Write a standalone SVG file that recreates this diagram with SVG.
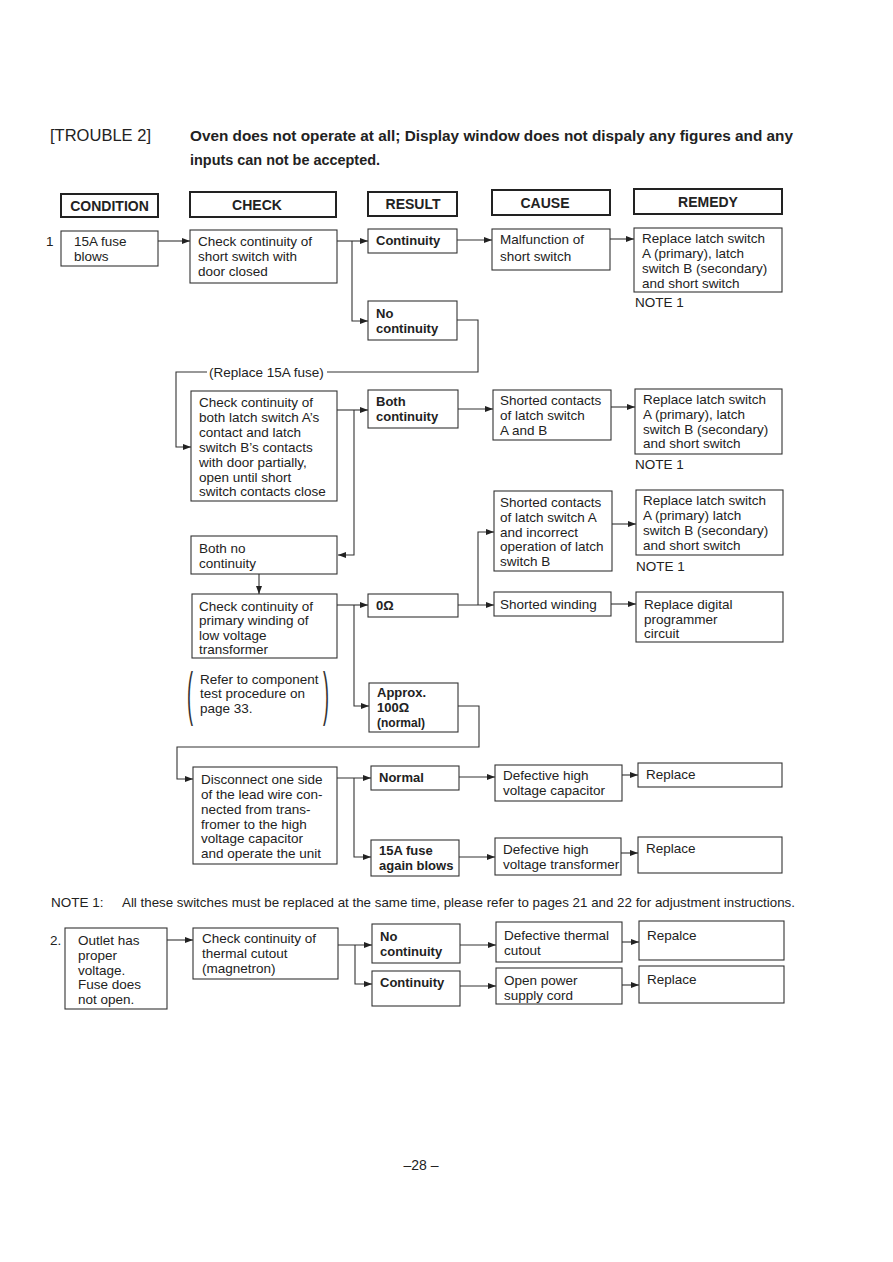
<svg xmlns="http://www.w3.org/2000/svg" width="893" height="1262" viewBox="0 0 893 1262">
<style>
text{font-family:"Liberation Sans",Arial,sans-serif;fill:#222;}
.t{font-size:13.5px;}
.b{font-size:13px;font-weight:bold;}
.h{font-size:14px;font-weight:bold;text-anchor:middle;}
.box{fill:#fff;stroke:#333;stroke-width:1.1;}
.hbox{fill:#fff;stroke:#222;stroke-width:2;}
.c{fill:none;stroke:#333;stroke-width:1.1;}
</style>
<defs>
<marker id="ah" markerUnits="userSpaceOnUse" markerWidth="9" markerHeight="7" refX="8" refY="3.5" orient="auto">
<path d="M0,0.5 L8,3.5 L0,6.5 z" fill="#222"/>
</marker>
</defs>
<rect width="893" height="1262" fill="#fff"/>

<g id="title">
<text x="50" y="141" style="font-size:16px" textLength="101" lengthAdjust="spacingAndGlyphs">[TROUBLE 2]</text>
<text x="190" y="141" style="font-size:14.5px;font-weight:bold" textLength="603" lengthAdjust="spacingAndGlyphs">Oven does not operate at all; Display window does not dispaly any figures and any</text>
<text x="190" y="165" style="font-size:14.5px;font-weight:bold" textLength="190" lengthAdjust="spacingAndGlyphs">inputs can not be accepted.</text>
</g>

<g id="headers">
<g id="h-condition"><rect class="hbox" x="61" y="194" width="97" height="23"/><text class="h" x="109.5" y="211">CONDITION</text></g>
<g id="h-check"><rect class="hbox" x="190" y="192" width="146" height="25"/><text class="h" x="257" y="210">CHECK</text></g>
<g id="h-result"><rect class="hbox" x="368" y="192" width="89" height="24"/><text class="h" x="413" y="209">RESULT</text></g>
<g id="h-cause"><rect class="hbox" x="492" y="190" width="118" height="25"/><text class="h" x="545" y="208">CAUSE</text></g>
<g id="h-remedy"><rect class="hbox" x="634" y="189" width="148" height="25"/><text class="h" x="708" y="207">REMEDY</text></g>
</g>

<g id="connectors">
<path class="c" d="M158,241 H190" marker-end="url(#ah)"/>
<path class="c" d="M337,241 H368" marker-end="url(#ah)"/>
<path class="c" d="M352,241 V321 H368" marker-end="url(#ah)"/>
<path class="c" d="M457,240 H492" marker-end="url(#ah)"/>
<path class="c" d="M610,239 H634" marker-end="url(#ah)"/>
<path class="c" d="M457,320 H478 V372 H327"/>
<path class="c" d="M207,372 H176 V447 H191" marker-end="url(#ah)"/>
<path class="c" d="M337,410 H368" marker-end="url(#ah)"/>
<path class="c" d="M354,410 V555 H338" marker-end="url(#ah)"/>
<path class="c" d="M458,409 H493" marker-end="url(#ah)"/>
<path class="c" d="M611,407 H635" marker-end="url(#ah)"/>
<path class="c" d="M612,524 H636" marker-end="url(#ah)"/>
<path class="c" d="M259,574 V594" marker-end="url(#ah)"/>
<path class="c" d="M337,605 H368" marker-end="url(#ah)"/>
<path class="c" d="M354,605 V706 H369" marker-end="url(#ah)"/>
<path class="c" d="M458,605 H494" marker-end="url(#ah)"/>
<path class="c" d="M478,605 V532 H494" marker-end="url(#ah)"/>
<path class="c" d="M611,604 H636" marker-end="url(#ah)"/>
<path class="c" d="M458,706 H479 V747 H177 V779 H193" marker-end="url(#ah)"/>
<path class="c" d="M337,778 H371" marker-end="url(#ah)"/>
<path class="c" d="M354,778 V857 H371" marker-end="url(#ah)"/>
<path class="c" d="M459,777 H495" marker-end="url(#ah)"/>
<path class="c" d="M622,775 H638" marker-end="url(#ah)"/>
<path class="c" d="M459,857 H495" marker-end="url(#ah)"/>
<path class="c" d="M621,853 H638" marker-end="url(#ah)"/>
<path class="c" d="M167,940 H193" marker-end="url(#ah)"/>
<path class="c" d="M338,945 H372" marker-end="url(#ah)"/>
<path class="c" d="M355,945 V984 H372" marker-end="url(#ah)"/>
<path class="c" d="M460,945 H496" marker-end="url(#ah)"/>
<path class="c" d="M460,986 H496" marker-end="url(#ah)"/>
<path class="c" d="M622,942 H639" marker-end="url(#ah)"/>
<path class="c" d="M622,985 H639" marker-end="url(#ah)"/>
<text class="t" x="209" y="377">(Replace 15A fuse)</text>
</g>

<text class="t" x="46" y="246">1</text>
<g id="cond1"><rect class="box" x="61" y="231" width="97" height="35"/><text class="t" x="74" y="246">15A fuse</text><text class="t" x="74" y="261">blows</text></g>
<g id="check1"><rect class="box" x="190" y="230" width="147" height="53"/><text class="t" x="198" y="246">Check continuity of</text><text class="t" x="198" y="261">short switch with</text><text class="t" x="198" y="276">door closed</text></g>
<g id="res-continuity"><rect class="box" x="368" y="229" width="89" height="24"/><text class="b" x="376" y="245">Continuity</text></g>
<g id="cause-malfunction"><rect class="box" x="492" y="229" width="118" height="41"/><text class="t" x="500" y="244">Malfunction of</text><text class="t" x="500" y="261">short switch</text></g>
<g id="rem1"><rect class="box" x="634" y="228" width="148" height="64"/><text class="t" x="642" y="243">Replace latch switch</text><text class="t" x="642" y="258">A (primary), latch</text><text class="t" x="642" y="273">switch B (secondary)</text><text class="t" x="642" y="288">and short switch</text></g>
<text class="t" x="635" y="307">NOTE 1</text>
<g id="res-nocontinuity"><rect class="box" x="368" y="301" width="89" height="39"/><text class="b" x="376" y="318">No</text><text class="b" x="376" y="333">continuity</text></g>

<g id="check2"><rect class="box" x="191" y="391" width="146" height="110"/>
<text class="t" x="199" y="407">Check continuity of</text><text class="t" x="199" y="422">both latch switch A’s</text><text class="t" x="199" y="437">contact and latch</text><text class="t" x="199" y="452">switch B’s contacts</text><text class="t" x="199" y="467">with door partially,</text><text class="t" x="199" y="482">open until short</text><text class="t" x="199" y="496">switch contacts close</text></g>
<g id="res-both"><rect class="box" x="368" y="390" width="90" height="38"/><text class="b" x="376" y="406">Both</text><text class="b" x="376" y="421">continuity</text></g>
<g id="cause-shortedAB"><rect class="box" x="493" y="390" width="118" height="50"/><text class="t" x="500" y="405">Shorted contacts</text><text class="t" x="500" y="420">of latch switch</text><text class="t" x="500" y="435">A and B</text></g>
<g id="rem2"><rect class="box" x="635" y="389" width="147" height="65"/><text class="t" x="643" y="404">Replace latch switch</text><text class="t" x="643" y="419">A (primary), latch</text><text class="t" x="643" y="434">switch B (secondary)</text><text class="t" x="643" y="448">and short switch</text></g>
<text class="t" x="635" y="469">NOTE 1</text>

<g id="cause-shortedA"><rect class="box" x="494" y="491" width="118" height="80"/><text class="t" x="500" y="507">Shorted contacts</text><text class="t" x="500" y="522">of latch switch A</text><text class="t" x="500" y="537">and incorrect</text><text class="t" x="500" y="551">operation of latch</text><text class="t" x="500" y="566">switch B</text></g>
<g id="rem3"><rect class="box" x="636" y="490" width="147" height="65"/><text class="t" x="643" y="505">Replace latch switch</text><text class="t" x="643" y="520">A (primary) latch</text><text class="t" x="643" y="535">switch B (secondary)</text><text class="t" x="643" y="550">and short switch</text></g>
<text class="t" x="636" y="571">NOTE 1</text>

<g id="res-bothno"><rect class="box" x="191" y="536" width="146" height="38"/><text class="t" x="199" y="553">Both no</text><text class="t" x="199" y="568">continuity</text></g>

<g id="check3"><rect class="box" x="192" y="594" width="145" height="64"/><text class="t" x="199" y="611">Check continuity of</text><text class="t" x="199" y="625">primary winding of</text><text class="t" x="199" y="640">low voltage</text><text class="t" x="199" y="654">transformer</text></g>
<g id="res-0ohm"><rect class="box" x="368" y="594" width="90" height="23"/><text class="b" x="376" y="610">0Ω</text></g>
<g id="cause-winding"><rect class="box" x="494" y="592" width="117" height="24"/><text class="t" x="500" y="609">Shorted winding</text></g>
<g id="rem4"><rect class="box" x="636" y="592" width="147" height="50"/><text class="t" x="644" y="609">Replace digital</text><text class="t" x="644" y="624">programmer</text><text class="t" x="644" y="638">circuit</text></g>

<g id="note-refer">
<text transform="translate(187,714) scale(1.2,3.9)" style="font-size:15px;fill:#333">(</text>
<text transform="translate(323,714) scale(1.2,3.9)" style="font-size:15px;fill:#333">)</text>
<text class="t" x="200" y="684">Refer to component</text><text class="t" x="200" y="698">test procedure on</text><text class="t" x="200" y="713">page 33.</text>
</g>
<g id="res-100ohm"><rect class="box" x="369" y="683" width="89" height="49"/><text class="b" x="377" y="697">Approx.</text><text class="b" x="377" y="712">100Ω</text><text class="b" x="377" y="727" style="font-size:12px">(normal)</text></g>

<g id="check4"><rect class="box" x="193" y="767" width="144" height="97"/><text class="t" x="201" y="784">Disconnect one side</text><text class="t" x="201" y="799">of the lead wire con-</text><text class="t" x="201" y="814">nected from trans-</text><text class="t" x="201" y="829">fromer to the high</text><text class="t" x="201" y="843">voltage capacitor</text><text class="t" x="201" y="858">and operate the unit</text></g>
<g id="res-normal"><rect class="box" x="371" y="766" width="88" height="24"/><text class="b" x="379" y="782">Normal</text></g>
<g id="cause-cap"><rect class="box" x="495" y="765" width="127" height="36"/><text class="t" x="503" y="780">Defective high</text><text class="t" x="503" y="795">voltage capacitor</text></g>
<g id="rem5"><rect class="box" x="638" y="763" width="144" height="24"/><text class="t" x="646" y="779">Replace</text></g>
<g id="res-fuseagain"><rect class="box" x="371" y="840" width="88" height="36"/><text class="b" x="379" y="855">15A fuse</text><text class="b" x="379" y="870">again blows</text></g>
<g id="cause-trans"><rect class="box" x="495" y="838" width="126" height="37"/><text class="t" x="503" y="854">Defective high</text><text class="t" x="503" y="869">voltage transformer</text></g>
<g id="rem6"><rect class="box" x="638" y="837" width="144" height="36"/><text class="t" x="646" y="853">Replace</text></g>

<g id="note1">
<text class="t" x="51" y="907">NOTE 1:</text>
<text class="t" x="122" y="907" textLength="673" lengthAdjust="spacingAndGlyphs">All these switches must be replaced at the same time, please refer to pages 21 and 22 for adjustment instructions.</text>
</g>

<text class="t" x="50" y="945">2.</text>
<g id="cond2"><rect class="box" x="65" y="928" width="102" height="81"/><text class="t" x="78" y="945">Outlet has</text><text class="t" x="78" y="960">proper</text><text class="t" x="78" y="975">voltage.</text><text class="t" x="78" y="989">Fuse does</text><text class="t" x="78" y="1004">not open.</text></g>
<g id="check5"><rect class="box" x="193" y="928" width="145" height="51"/><text class="t" x="202" y="943">Check continuity of</text><text class="t" x="202" y="958">thermal cutout</text><text class="t" x="202" y="973">(magnetron)</text></g>
<g id="res2-nocont"><rect class="box" x="372" y="924" width="88" height="39"/><text class="b" x="380" y="941">No</text><text class="b" x="380" y="956">continuity</text></g>
<g id="res2-cont"><rect class="box" x="372" y="971" width="88" height="35"/><text class="b" x="380" y="987">Continuity</text></g>
<g id="cause-thermal"><rect class="box" x="496" y="922" width="126" height="40"/><text class="t" x="504" y="940">Defective thermal</text><text class="t" x="504" y="955">cutout</text></g>
<g id="cause-cord"><rect class="box" x="496" y="968" width="126" height="36"/><text class="t" x="504" y="985">Open power</text><text class="t" x="504" y="1000">supply cord</text></g>
<g id="rem7"><rect class="box" x="639" y="921" width="145" height="39"/><text class="t" x="647" y="940">Repalce</text></g>
<g id="rem8"><rect class="box" x="639" y="966" width="145" height="37"/><text class="t" x="647" y="984">Replace</text></g>

<text x="421" y="1170" style="font-size:14px;text-anchor:middle">–28 –</text>
</svg>
